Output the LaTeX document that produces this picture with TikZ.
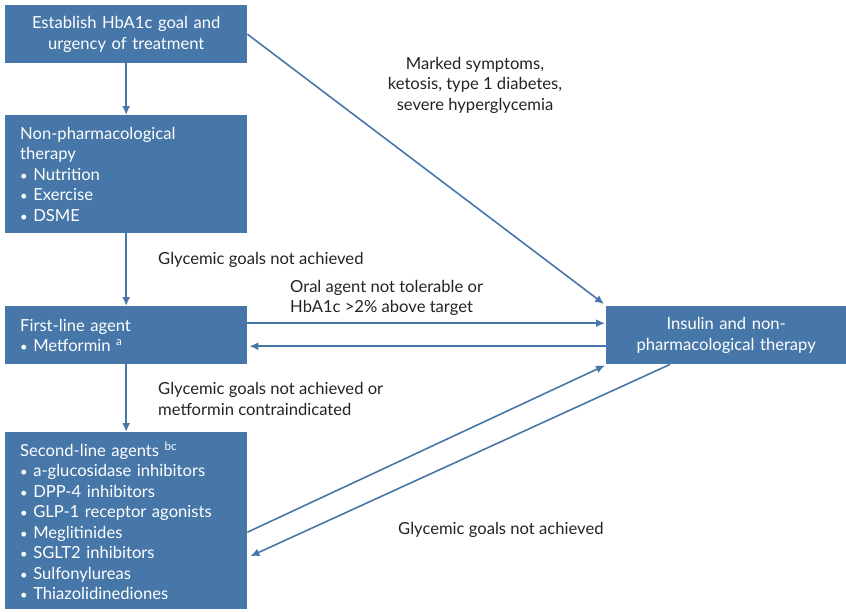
\documentclass[tikz,border=0pt]{standalone}
\usepackage{fontspec}
\setmainfont{Lato}
\usetikzlibrary{arrows.meta,positioning}
\definecolor{boxblue}{RGB}{70,119,168}
\definecolor{notegray}{RGB}{35,35,35}
\tikzset{
  >={Latex[length=9pt,width=8pt]},
  flowbox/.style={fill=boxblue,text=white,minimum width=242pt,inner xsep=15pt,inner ysep=0pt,
    text width=212pt,anchor=north west},
  flowarrow/.style={->,draw=boxblue,line width=1.6pt},
  note/.style={text=notegray,inner sep=0pt},
}
\tikzstyle{every node}=[font=\fontsize{16.6}{20.5}\selectfont]
\newcommand{\itm}{{\fontsize{13}{13}\selectfont\textbullet}\ }

\begin{document}
\begin{tikzpicture}[x=1pt,y=-1pt]
  \useasboundingbox (0,0) rectangle (846,611);
  % boxes
  \node[flowbox,minimum height=58pt,align=center] (goal) at (5,5)
    {Establish HbA1c goal and\\urgency of treatment};
  \node[flowbox,minimum height=118pt,align=left] (nonpharm) at (5,115)
    {Non-pharmacological\\therapy\\\itm Nutrition\\\itm Exercise\\\itm DSME};
  \node[flowbox,minimum height=58pt,align=left] (first) at (5,306)
    {First-line agent\\\itm Metformin \textsuperscript{a}};
  \node[flowbox,minimum height=177pt,align=left] (second) at (5,432)
    {Second-line agents \textsuperscript{bc}\\\itm a-glucosidase inhibitors\\\itm DPP-4 inhibitors\\
     \itm GLP-1 receptor agonists\\\itm Meglitinides\\\itm SGLT2 inhibitors\\
     \itm Sulfonylureas\\\itm Thiazolidinediones};
  \node[flowbox,minimum width=240pt,text width=210pt,minimum height=58pt,align=center] (insulin) at (606,306)
    {Insulin and non-\\pharmacological therapy};

  % labels
  \node[note,align=center] (marked) at (475,85)
    {Marked symptoms,\\ketosis, type 1 diabetes,\\severe hyperglycemia};
  \node[note,anchor=west] (notmet1) at (158,260) {Glycemic goals not achieved};
  \node[note,anchor=west,align=left] (oral) at (290,298)
    {Oral agent not tolerable or\\HbA1c >2\% above target};
  \node[note,anchor=west,align=left] (notmet2) at (158,399)
    {Glycemic goals not achieved or\\metformin contraindicated};
  \node[note,anchor=west] (notmet3) at (398,530) {Glycemic goals not achieved};

  % connectors
  \draw[flowarrow] (goal) -- (nonpharm);
  \draw[flowarrow] (nonpharm) -- (first);
  \draw[flowarrow] (first) -- (second);
  \draw[flowarrow] (goal.east) -- ([shift={(-2pt,2pt)}]insulin.north west);
  \draw[flowarrow] ([yshift=12pt]first.east) -- ([yshift=12pt,xshift=-1pt]insulin.west);
  \draw[flowarrow] ([yshift=-11pt]insulin.west) -- ([yshift=-11pt,xshift=2pt]first.east);
  \draw[flowarrow] ([yshift=-11.5pt]second.east) -- ([shift={(-1pt,-1pt)}]insulin.south west);
  \draw[flowarrow] ([xshift=64pt]insulin.south west) -- ([shift={(3pt,-35.5pt)}]second.east);
\end{tikzpicture}
\end{document}
